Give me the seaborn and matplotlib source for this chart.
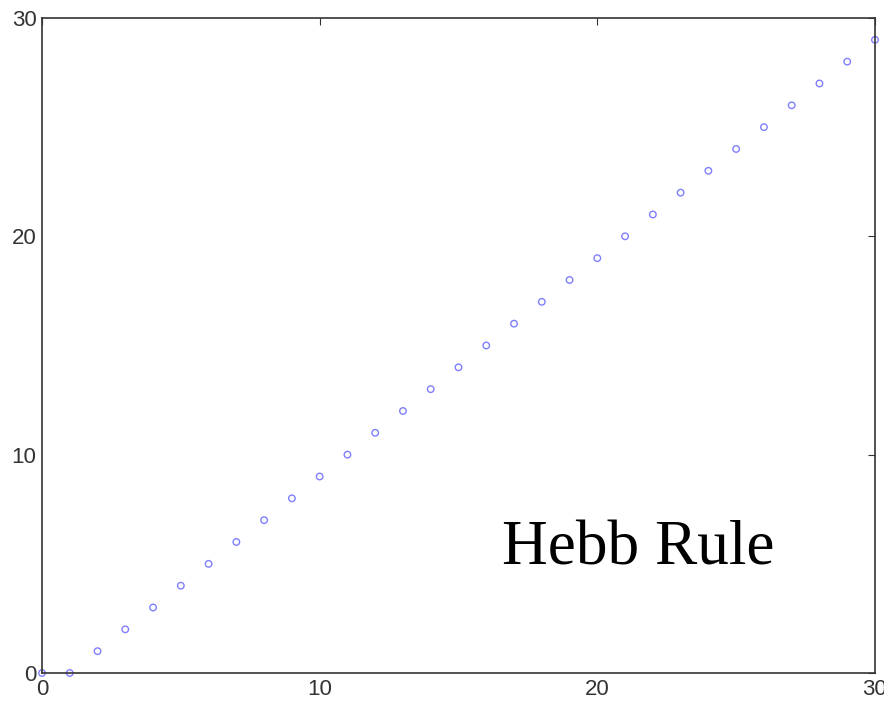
import numpy as np
import pandas as pd
import matplotlib.pyplot as plt
import seaborn as sns

sns.set_theme(style="white")
plt.rcParams['font.family'] = ['Liberation Sans', 'DejaVu Sans']

x_vals = list(range(0, 31))
y_vals = [0, 0, 1, 2, 3, 4, 5, 6, 7, 8, 9, 10, 11, 12, 13, 14, 15, 16, 17, 18,
          19, 20, 21, 22, 23, 24, 25, 26, 27, 28, 29]
ticks = [0, 10, 20, 30]

df = pd.DataFrame({'x': x_vals, 'y': y_vals})

fig = plt.figure(figsize=(8.84, 7.02), dpi=100)
ax = fig.add_axes([0.0475, 0.0413, 0.9423, 0.9331])

sns.scatterplot(data=df, x='x', y='y', ax=ax, marker='o', s=22,
                facecolor='none', edgecolor='#7f7fff', linewidth=1.0,
                clip_on=False)

ax.set_xlim(0, 30)
ax.set_ylim(0, 30)
ax.set_xticks(ticks)
ax.set_yticks(ticks)
ax.set_xlabel('')
ax.set_ylabel('')
ax.tick_params(direction='in', top=True, right=True, length=5, width=0.8,
               labelsize=16, labelcolor='#333333', colors='#333333')
ax.tick_params(axis='x', pad=4)
ax.tick_params(axis='y', pad=4)
for sp in ax.spines.values():
    sp.set_color('#333333')
    sp.set_linewidth(1.2)

ax.text(16.55, 4.95, 'Hebb Rule', fontsize=45.5, family='Liberation Serif', color='black')

plt.savefig('out.png', dpi=100)
